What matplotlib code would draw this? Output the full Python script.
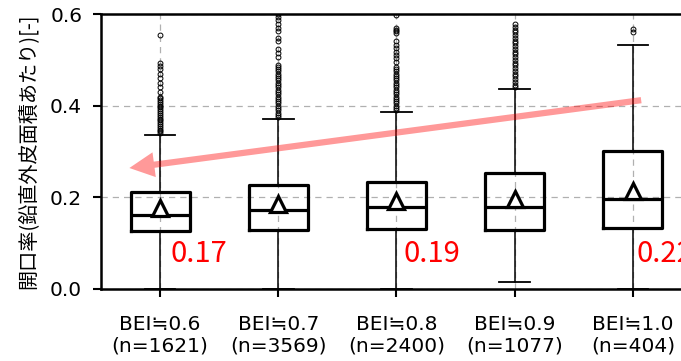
import matplotlib
matplotlib.use("Agg")
import matplotlib.pyplot as plt
from matplotlib.patches import FancyArrowPatch

plt.rcParams['font.family'] = ['DejaVu Sans', 'Noto Sans CJK JP']

# ---- data ----
categories = ["BEI≒0.6", "BEI≒0.7", "BEI≒0.8", "BEI≒0.9", "BEI≒1.0"]
counts = [1621, 3569, 2400, 1077, 404]
q1 = [0.126, 0.129, 0.132, 0.129, 0.133]
medians = [0.161, 0.172, 0.179, 0.179, 0.197]
q3 = [0.211, 0.228, 0.234, 0.253, 0.301]
means = [0.176, 0.186, 0.192, 0.197, 0.214]
whisker_lo = [0.0, 0.0, 0.0, 0.015, 0.0]
whisker_hi = [0.336, 0.371, 0.386, 0.436, 0.532]
mean_labels = ["0.17", None, "0.19", None, "0.22"]

fliers_1 = [0.340, 0.344, 0.348, 0.352, 0.356, 0.360, 0.364, 0.368, 0.372, 0.376,
            0.380, 0.384, 0.388, 0.392, 0.396, 0.400, 0.404, 0.408, 0.412, 0.416,
            0.420, 0.430, 0.440, 0.450, 0.460, 0.470, 0.480, 0.487, 0.494, 0.554]
fliers_2 = [0.375, 0.380, 0.385, 0.390, 0.395, 0.400, 0.405, 0.410, 0.415, 0.420,
            0.425, 0.430, 0.435, 0.440, 0.445, 0.450, 0.455, 0.460, 0.465, 0.470,
            0.475, 0.480, 0.485, 0.489, 0.507, 0.515, 0.523, 0.540, 0.548, 0.562,
            0.570, 0.578, 0.586, 0.594, 0.600]
fliers_3 = [0.390, 0.395, 0.400, 0.405, 0.410, 0.415, 0.420, 0.425, 0.430, 0.435,
            0.440, 0.445, 0.450, 0.455, 0.460, 0.465, 0.470, 0.475, 0.480, 0.485,
            0.496, 0.503, 0.510, 0.518, 0.525, 0.532, 0.540, 0.558, 0.562, 0.566,
            0.570, 0.598]
fliers_4 = [0.440, 0.446, 0.452, 0.458, 0.464, 0.470, 0.476, 0.482, 0.488, 0.494,
            0.500, 0.506, 0.512, 0.518, 0.524, 0.530, 0.536, 0.542, 0.548, 0.554,
            0.560, 0.566, 0.572, 0.578]
fliers_5 = [0.560, 0.567]
fliers = [fliers_1, fliers_2, fliers_3, fliers_4, fliers_5]

yticks = [0.0, 0.2, 0.4, 0.6]
ylabel = "開口率(鉛直外皮面積あたり)[-]"
trend_start = (5.07, 0.412)
trend_end = (0.74, 0.264)

# ---- figure ----
fig = plt.figure(figsize=(6.81, 3.61), dpi=100)
ax = fig.add_axes([101 / 681, 72 / 361, 591 / 681, 275 / 361])

stats = []
for i in range(len(categories)):
    stats.append(dict(
        label=f"{categories[i]}\n(n={counts[i]})",
        q1=q1[i], med=medians[i], q3=q3[i], mean=means[i],
        whislo=whisker_lo[i], whishi=whisker_hi[i], fliers=fliers[i],
    ))

ax.bxp(stats, positions=range(1, len(stats) + 1), widths=0.5, capwidths=0.26,
       showmeans=True, patch_artist=False,
       boxprops=dict(color='black', linewidth=2.3),
       medianprops=dict(color='black', linewidth=2.3),
       whiskerprops=dict(color='black', linewidth=1.1),
       capprops=dict(color='black', linewidth=1.3),
       meanprops=dict(marker='^', markerfacecolor='white', markeredgecolor='black',
                      markersize=11.5, markeredgewidth=2.3),
       flierprops=dict(marker='o', markerfacecolor='none', markeredgecolor='black',
                       markersize=3.5, markeredgewidth=0.7))

ax.set_xlim(0.5, 5.5)
ax.set_ylim(0, 0.6)
ax.set_yticks(yticks)
ax.set_yticklabels([f"{v:.1f}" for v in yticks])
ax.grid(True, linestyle=(0, (5, 4)), color='#b0b0b0', linewidth=0.9)
ax.set_axisbelow(True)

for s in ax.spines.values():
    s.set_linewidth(1.8)
ax.tick_params(axis='both', direction='out', length=5.5, width=1.5, labelsize=14.5)
ax.tick_params(axis='x', pad=13)
ax.tick_params(axis='y', pad=8)
for t in ax.get_xticklabels():
    t.set_linespacing(1.2)
ax.set_ylabel(ylabel, fontsize=14.5, labelpad=8, family=['Noto Sans CJK JP', 'DejaVu Sans'])

# mean labels
offsets = {0: 0.085, 2: 0.06, 4: 0.03}
for i, lab in enumerate(mean_labels):
    if lab is None:
        continue
    ax.text(i + 1 + offsets[i], 0.077, lab, color='red', fontsize=21,
            ha='left', va='center', family=['Noto Sans CJK JP', 'DejaVu Sans'])

# trend arrow (single patch so the translucency is uniform)
arrow = FancyArrowPatch(trend_start, trend_end,
                        arrowstyle='simple,head_length=1.8,head_width=1.8,tail_width=0.45',
                        mutation_scale=10, color='red', alpha=0.4, lw=0,
                        shrinkA=0, shrinkB=0, zorder=5)
ax.add_patch(arrow)

fig.savefig("out.png", dpi=100)
